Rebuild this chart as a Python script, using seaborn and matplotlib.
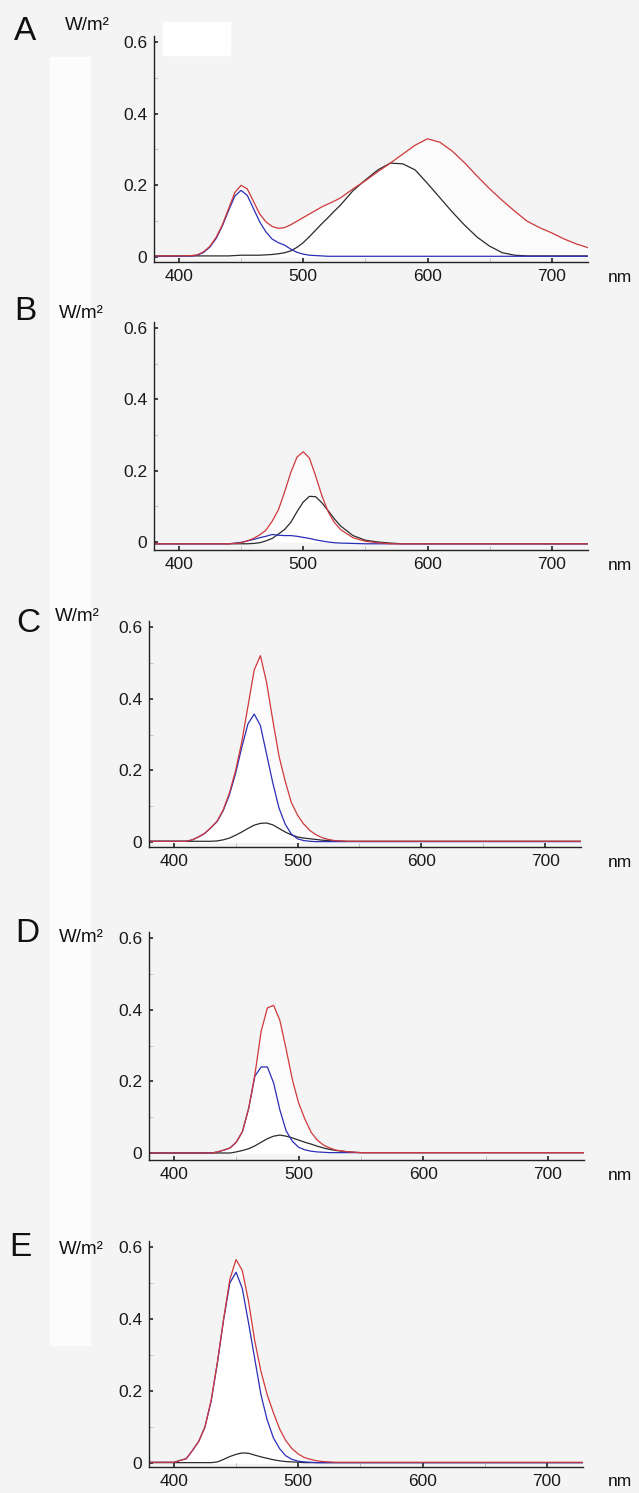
import numpy as np
import pandas as pd
import matplotlib.pyplot as plt
import seaborn as sns
from matplotlib.patches import Rectangle
from matplotlib.ticker import FixedLocator, MultipleLocator

# wavelength grid (nm) the curves were read at
nm = [380, 390, 400, 410, 415, 420, 425, 430, 435, 440, 445, 450, 455, 460, 465,
      470, 475, 480, 485, 490, 495, 500, 505, 510, 515, 520, 525, 530, 540, 550,
      560, 570, 580, 590, 600, 610, 620, 630, 640, 650, 660, 670, 680, 690, 700,
      710, 720, 730]

# Panel A
a_red = [.003, .003, .003, .004, .006, .015, .03, .055, .09, .135, .18, .2, .19, .155, .12,
         .098, .085, .08, .082, .09, .1, .11, .12, .13, .14, .148, .156, .165, .19, .213,
         .238, .262, .287, .312, .33, .32, .295, .262, .225, .19, .158, .128, .1, .082, .067,
         .05, .036, .025]
a_blue = [.002, .002, .002, .003, .005, .013, .028, .052, .087, .13, .17, .186, .172, .135, .098,
          .07, .05, .04, .033, .022, .013, .008, .005, .004, .003, .002] + [.002] * 22
a_black = [.003] * 10 + [.004, .005, .005, .005, .005, .006, .007, .009, .012, .017, .027, .04,
                         .057, .075, .093, .11, .128, .145, .185, .215, .243, .262, .26, .243,
                         .205, .165, .125, .088, .055, .03, .012, .005, .003, .003, .003, .003,
                         .003, .003]

# Panel B
b_red = [-.005] * 10 + [-.004, -.002, .003, .01, .02, .033, .058, .09, .14, .195, .238, .253,
                        .235, .185, .13, .085, .055, .035, .012, .002, -.002] + [-.005] * 17
b_blue = [-.005] * 10 + [-.003, -.001, .003, .007, .012, .016, .021, .019, .018, .018, .016,
                         .013, .01, .006, .003, 0, -.002, -.003, -.004] + [-.005] * 19
b_black = [-.005] * 13 + [-.004, -.002, .003, .01, .022, .035, .055, .085, .112, .128, .127,
                          .11, .088, .065, .045, .018, .005, 0, -.003] + [-.005] * 16

# Panel C
c_red = [.002] * 4 + [.006, .014, .024, .04, .058, .09, .137, .2, .28, .38, .48, .52, .445,
                      .34, .24, .17, .11, .075, .05, .032, .02, .012, .007, .004] + [.002] * 20
c_blue = [.002] * 4 + [.006, .014, .024, .04, .057, .088, .132, .192, .265, .33, .357, .325,
                       .245, .165, .095, .05, .022, .009, .004, .002, .001, .001, .001,
                       .001] + [.001] * 20
c_black = [.002] * 8 + [.003, .006, .011, .019, .028, .038, .047, .052, .053, .048, .038, .028,
                        .02, .014, .011, .009, .007, .005, .004, .003] + [.002] * 20

# Panel D
d_red = [0] * 8 + [.003, .008, .014, .03, .06, .125, .22, .34, .405, .412, .37, .29, .205,
                   .14, .095, .058, .036, .022, .014, .008, .003] + [.001] * 19
d_blue = [0] * 8 + [.003, .008, .014, .03, .06, .125, .215, .24, .24, .195, .12, .062, .033,
                    .016, .009, .005, .003, .002, .001, .001] + [.001] * 20
d_black = [0] * 11 + [.003, .007, .012, .02, .03, .04, .047, .05, .047, .042, .036, .03, .025,
                      .019, .014, .01, .007, .003] + [.001] * 19

# Panel E
e_red = [.002] * 3 + [.012, .035, .06, .1, .175, .28, .4, .51, .565, .535, .45, .34, .255, .19,
                      .14, .095, .062, .04, .025, .015, .01, .006, .004, .003, .002] + [.002] * 20
e_blue = [.002] * 3 + [.012, .035, .06, .1, .172, .278, .398, .5, .53, .485, .39, .29, .19, .12,
                       .07, .04, .02, .01, .005, .003, .002, .001, .001, .001, .001] + [.001] * 20
e_black = [.001] * 8 + [.003, .01, .018, .024, .028, .027, .022, .017, .013, .009, .006, .004,
                        .003, .002] + [.001] * 26

panels = {
    'A': (a_red, a_blue, a_black),
    'B': (b_red, b_blue, b_black),
    'C': (c_red, c_blue, c_black),
    'D': (d_red, d_blue, d_black),
    'E': (e_red, e_blue, e_black),
}

# pixel layout: left, right, y of 0.6, y of 0, bottom of axis, letter xy, unit xy
layout = {
    'A': (154, 588, 42, 257, 262, (25, 31), (65, 26)),
    'B': (154, 588, 328, 542, 550, (25, 311), (59, 313)),
    'C': (149, 581, 627, 842, 847, (28, 623), (55, 617)),
    'D': (149, 584, 938, 1153, 1160, (27, 934), (59, 937)),
    'E': (149, 583, 1247, 1463, 1467, (20, 1247), (59, 1250)),
}

W, H = 639, 1493
sns.set_theme(style='ticks')
plt.rcParams['font.family'] = ['Liberation Sans', 'DejaVu Sans']

bg = '#f4f4f4'
fig = plt.figure(figsize=(W / 100, H / 100), dpi=100)
fig.patch.set_facecolor(bg)

# whiter patches of the scanned background
fig.patches.append(Rectangle((50 / W, 1 - 1345 / H), 40 / W, (1345 - 57) / H,
                             transform=fig.transFigure, color='#fcfcfc', zorder=0))
fig.patches.append(Rectangle((163 / W, 1 - 55 / H), 67 / W, 33 / H,
                             transform=fig.transFigure, color='white', zorder=0))

palette = {'black': '#2b2b2b', 'blue': '#2a2fb8', 'red': '#d0383a'}

for key, (red, blue, black) in panels.items():
    left, right, y06, y0, ybot, letter_xy, unit_xy = layout[key]
    ppu = (y0 - y06) / 0.6
    ytop = y06 - 6
    ax = fig.add_axes([left / W, 1 - ybot / H, (right - left) / W, (ybot - ytop) / H])
    ax.set_facecolor('none')

    df = pd.DataFrame({'nm': nm * 3,
                       'W': red + blue + black,
                       'comp': ['red'] * len(nm) + ['blue'] * len(nm) + ['black'] * len(nm)})

    ax.fill_between(nm, 0, red, color='#fbfbfb', lw=0, zorder=0)
    ax.fill_between(nm, 0, np.maximum(blue, black), color='white', lw=0, zorder=0)
    sns.lineplot(data=df, x='nm', y='W', hue='comp', hue_order=['black', 'blue', 'red'],
                 palette=palette, linewidth=0.9, legend=False, ax=ax)
    for ln in ax.lines:
        ln.set_solid_joinstyle('round')

    ax.set_xlim(380, 729)
    ax.set_ylim(-(ybot - y0) / ppu, 0.6 + 6 / ppu)
    ax.xaxis.set_major_locator(FixedLocator([400, 500, 600, 700]))
    ax.xaxis.set_minor_locator(FixedLocator([450, 550, 650]))
    ax.yaxis.set_major_locator(FixedLocator([0, 0.2, 0.4, 0.6]))
    ax.yaxis.set_minor_locator(MultipleLocator(0.1))
    ax.set_yticklabels(['0', '0.2', '0.4', '0.6'])
    ax.tick_params(which='major', direction='in', length=3, width=1.2, color='#222222',
                   labelsize=12.5, labelcolor='#1a1a1a')
    ax.tick_params(axis='x', which='major', pad=5)
    ax.tick_params(axis='y', which='major', pad=5)
    ax.tick_params(which='minor', direction='in', length=3, width=0.6, color='#bbbbbb')
    ax.set_xlabel('')
    ax.set_ylabel('')
    sns.despine(ax=ax)
    for s in ['left', 'bottom']:
        ax.spines[s].set_linewidth(1.0)
        ax.spines[s].set_color('#222222')

    fig.text(letter_xy[0] / W, 1 - letter_xy[1] / H, key, fontsize=24,
             ha='center', va='center', color='#111111')
    fig.text(unit_xy[0] / W, 1 - unit_xy[1] / H, 'W/m²', fontsize=13.5,
             ha='left', va='center', color='#111111')
    fig.text(608 / W, 1 - (ybot + 15) / H, 'nm', fontsize=12.5,
             ha='left', va='center', color='#111111')

fig.savefig('out.png', dpi=100, facecolor=bg)
